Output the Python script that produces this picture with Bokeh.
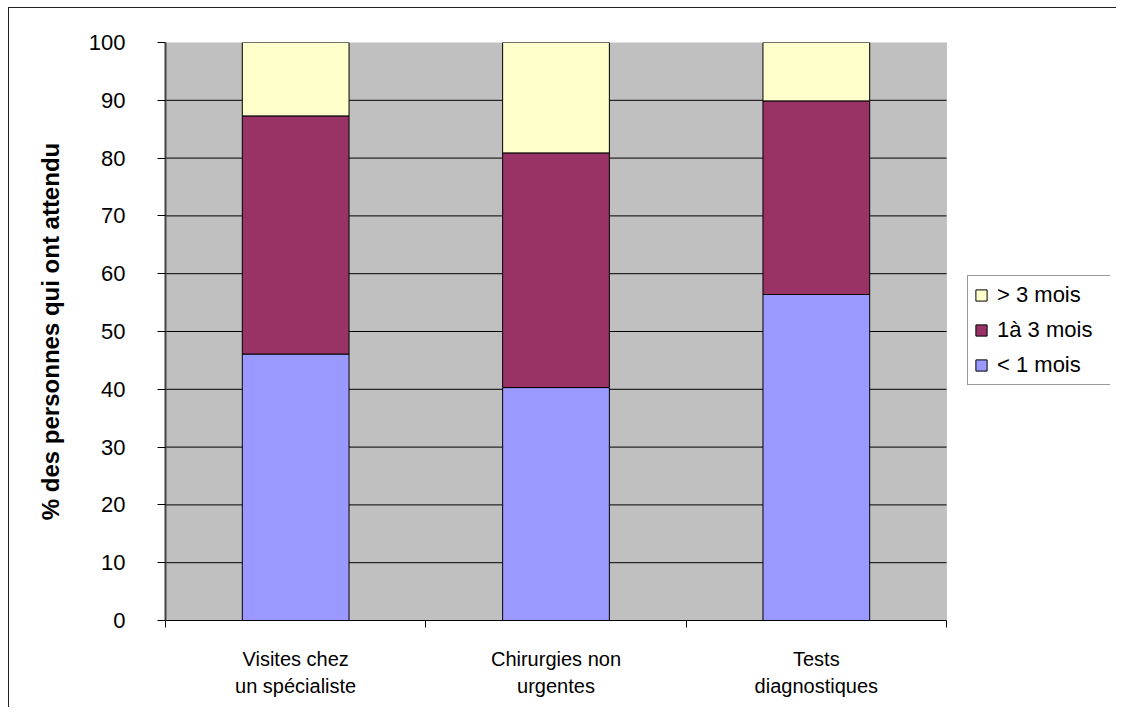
from bokeh.plotting import figure
from bokeh.models import Range1d, FixedTicker, Legend, LegendItem, ColumnDataSource, BoxAnnotation
from bokeh.embed import file_html
from bokeh.resources import INLINE

# ---- data ----
categories = ["Visites chez\nun spécialiste", "Chirurgies non\nurgentes", "Tests\ndiagnostiques"]
moins_1_mois = [46.1, 40.3, 56.4]
un_a_3_mois = [41.2, 40.6, 33.5]
plus_3_mois = [12.7, 19.1, 10.1]
series_keys = ["moins_1", "un_a_3", "plus_3"]
series_labels = ["< 1 mois", "1à 3 mois", "> 3 mois"]
series_colors = ["#9999FF", "#993366", "#FFFFCC"]
y_ticks = [0, 10, 20, 30, 40, 50, 60, 70, 80, 90, 100]
y_label = "% des personnes qui ont attendu"

n = len(categories)
positions = [i + 0.5 for i in range(n)]
boundaries = [float(i) for i in range(n + 1)]

source = ColumnDataSource(data=dict(
    x=positions,
    moins_1=moins_1_mois,
    un_a_3=un_a_3_mois,
    plus_3=plus_3_mois,
))

FONT = "Liberation Sans"

# frame spans the plot area plus the legend zone on the right;
# the grey plot area covers the categories only (781 of 945 px)
x_end = n * 945 / 781

p = figure(width=1116, height=707, output_backend="svg", toolbar_location=None,
           x_range=Range1d(0, x_end), y_range=Range1d(0, 100),
           min_border_left=165, min_border_top=42, min_border_bottom=87,
           min_border_right=6)
p.background_fill_color = "white"
p.border_fill_color = "white"
p.border_fill_alpha = 0
p.outline_line_color = None
# outer chart border: left and top edges only
p.styles = {
    "background-color": "white",
    "background-image": "linear-gradient(#222222, #222222), linear-gradient(#222222, #222222)",
    "background-size": "1px 100%, 100% 1px",
    "background-position": "8px 7px, 8px 7px",
    "background-repeat": "no-repeat, no-repeat",
}

# grey plot area
plot_area = BoxAnnotation(left=0, right=n, bottom=0, top=100, level="underlay",
                          fill_color="#C0C0C0", fill_alpha=1,
                          line_color="#888888", line_width=1)
p.add_layout(plot_area)

# horizontal grid lines limited to the plot area
grid_y = y_ticks[1:-1]
p.segment(x0=[0] * len(grid_y), x1=[n] * len(grid_y), y0=grid_y, y1=grid_y,
          line_color="black", line_width=1)

renderers = p.vbar_stack(series_keys, x="x", width=0.41, source=source,
                         color=series_colors, line_color="black", line_width=1)

p.xgrid.visible = False
p.ygrid.visible = False

# y axis
p.yaxis.ticker = FixedTicker(ticks=y_ticks)
p.yaxis.axis_line_color = "#444444"
p.yaxis.axis_line_width = 2
p.yaxis.major_tick_line_color = "black"
p.yaxis.major_tick_out = 8
p.yaxis.major_tick_in = 0
p.yaxis.minor_tick_line_color = None
p.yaxis.major_label_standoff = 32
p.yaxis.major_label_text_font = FONT
p.yaxis.major_label_text_font_size = "22px"
p.yaxis.major_label_text_color = "black"
p.yaxis.axis_label = y_label
p.yaxis.axis_label_text_font = FONT
p.yaxis.axis_label_text_font_style = "bold"
p.yaxis.axis_label_text_font_size = "24px"
p.yaxis.axis_label_text_color = "black"
p.yaxis.axis_label_standoff = 22

# x axis
p.xaxis.bounds = (0, n)
p.xaxis.ticker = FixedTicker(ticks=positions, minor_ticks=boundaries)
p.xaxis.major_label_overrides = {pos: lab for pos, lab in zip(positions, categories)}
p.xaxis.axis_line_color = "black"
p.xaxis.axis_line_width = 1
p.xaxis.major_tick_line_color = None
p.xaxis.major_tick_out = 0
p.xaxis.major_tick_in = 0
p.xaxis.minor_tick_line_color = "black"
p.xaxis.minor_tick_out = 7
p.xaxis.minor_tick_in = 0
p.xaxis.major_label_standoff = 20
p.xaxis.major_label_text_font = FONT
p.xaxis.major_label_text_font_size = "20px"
p.xaxis.major_label_text_color = "black"
p.xaxis.major_label_text_line_height = 1.25

# legend (top to bottom: > 3, 1à 3, < 1), right of the grey area
items = [LegendItem(label=series_labels[i], renderers=[renderers[i]]) for i in (2, 1, 0)]
legend = Legend(items=items, location=(802, 235), margin=0)
legend.border_line_color = "#333333"
legend.border_line_width = 1
legend.background_fill_color = "white"
legend.background_fill_alpha = 1
legend.label_text_font = FONT
legend.label_text_font_size = "22px"
legend.label_text_color = "black"
legend.glyph_width = 14
legend.glyph_height = 14
legend.label_standoff = 9
legend.padding = 6
legend.spacing = 9
legend.label_height = 24
legend.label_width = 108
p.add_layout(legend)

open("out.html", "w").write(file_html(p, INLINE))
